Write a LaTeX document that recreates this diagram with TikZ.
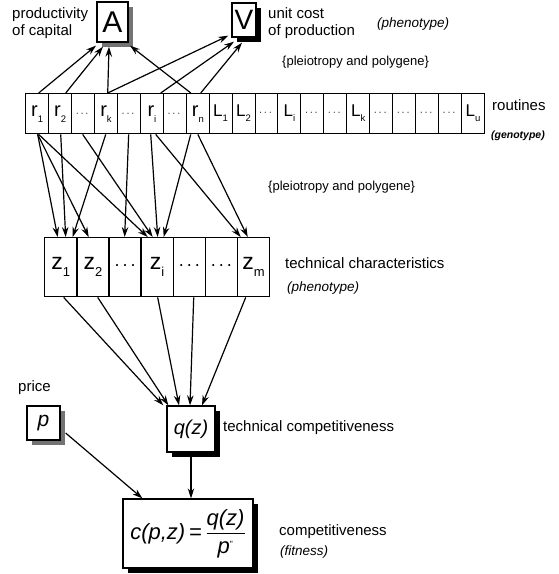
\documentclass[tikz,border=0pt]{standalone}
\usepackage{fontspec}
\setmainfont{Liberation Sans}
\usepackage{amsmath}
\usetikzlibrary{arrows.meta,patterns,shadows,calc}
\newcommand\lsub[1]{\raisebox{-0.3em}{\fontsize{9.5}{9.5}\selectfont #1}}
\newcommand\zsub[1]{\raisebox{-0.3em}{\fontsize{13}{13}\selectfont #1}}
\newcommand\rdots{{\fontsize{11}{11}\selectfont$\cdots$}}
\newcommand\zdots{{\fontsize{18}{18}\selectfont\raisebox{0.15em}{.\,.\,.}}}
\begin{document}
\begin{tikzpicture}[x=1pt,y=-1pt,
  rcell/.style={draw, line width=1.4pt, minimum width=22.95pt, minimum height=40pt, inner sep=0pt, anchor=north west, font=\fontsize{20}{20}\selectfont},
  lcell/.style={rcell, line width=0.9pt, font=\fontsize{17}{17}\selectfont},
  zcell/.style={draw, line width=1.4pt, minimum width=32.14pt, minimum height=59pt, inner sep=0pt, anchor=north west, font=\fontsize{23}{23}\selectfont},
  arr/.style={-{Stealth[length=10pt,width=6.5pt]}, line width=1.2pt},
  lbl/.style={anchor=west, inner sep=0pt, align=left, font=\fontsize{15}{17}\selectfont},
  slbl/.style={anchor=west, inner sep=0pt, font=\fontsize{13}{15}\selectfont},
  ilbl/.style={anchor=west, inner sep=0pt, font=\fontsize{13.5}{15}\selectfont\itshape},
  blackshadow/.style={general shadow={shadow xshift=4.5pt, shadow yshift=-4.5pt, fill=black}},
  dotshadow/.style={general shadow={shadow xshift=4.5pt, shadow yshift=-4.5pt, fill=black!55}},
  bigbox/.style={draw, line width=1.3pt, fill=white, inner sep=0pt}
]
\useasboundingbox (0,0) rectangle (559,574);

% top phenotype boxes
\node[bigbox, dotshadow, minimum width=31pt, minimum height=40pt, font=\fontsize{30}{30}\selectfont] (A) at (112.5,22) {A};
\node[bigbox, blackshadow, minimum width=24pt, minimum height=34pt, font=\fontsize{28}{28}\selectfont] (V) at (244,20) {V};

\node[lbl] (lprod) at (12,23) {productivity\\of capital};
\node[lbl] (lunit) at (268,23) {unit cost\\of production};
\node[ilbl] (lphen1) at (377,24) {(phenotype)};
\node[slbl] (lpp1) at (282,62) {\{pleiotropy and polygene\}};

% routines
\foreach \lab [count=\i] in {r\lsub{1},r\lsub{2},\rdots,r\lsub{k},\rdots,r\lsub{i},\rdots,r\lsub{n}}
  \node[rcell] (c\i) at ({25+(\i-1)*22.95},93) {\lab};
\foreach \lab [count=\j from 9] in {L\lsub{1},L\lsub{2},\rdots,L\lsub{i},\rdots,\rdots,L\lsub{k},\rdots,\rdots,\rdots,\rdots,L\lsub{u}}
  \node[lcell] (c\j) at ({25+(\j-1)*22.95},93) {\lab};

\node[lbl] (lrout) at (492,105) {routines};
\node[anchor=east, inner sep=0pt, font=\fontsize{10.5}{12}\selectfont\bfseries\itshape] (lgen) at (545,136) {(genotype)};

% arrows routines -> A, V
\draw[arr] ([xshift=1.5pt]c1.north) -- ([xshift=-16.5pt,yshift=-3pt]A.south);
\draw[arr] ([xshift=5.6pt]c2.north) -- ([xshift=-9.5pt,yshift=-4pt]A.south);
\draw[arr] ([xshift=1.7pt]c4.north) -- ([xshift=-3.5pt,yshift=-4pt]A.south);
\draw[arr] ([xshift=-7pt]c8.north) -- ([xshift=17.5pt,yshift=-3pt]A.south);
\draw[arr] ([xshift=1.7pt]c4.north) -- ([xshift=-3pt,yshift=2pt]V.south west);
\draw[arr] ([xshift=8.8pt]c6.north) -- ([xshift=-10pt,yshift=-4pt]V.south);
\draw[arr] ([xshift=2.9pt]c8.north) -- ([xshift=-2pt,yshift=-5pt]V.south);

% technical characteristics
\foreach \lab [count=\i] in {z\zsub{1},z\zsub{2},\zdots,z\zsub{i},\zdots,\zdots,z\zsub{m}}
  \node[zcell] (z\i) at ({44+(\i-1)*32.14},237) {\lab};

\node[slbl] (lpp2) at (268,187) {\{pleiotropy and polygene\}};
\node[lbl] (ltech) at (285,263) {technical characteristics};
\node[ilbl] (lphen2) at (287,288) {(phenotype)};

% arrows routines -> z
\draw[arr] ([xshift=0.5pt]c1.south) -- ([xshift=-3.1pt]z1.north);
\draw[arr] ([xshift=0.5pt]c1.south) -- ([xshift=-4.2pt]z2.north);
\draw[arr] ([xshift=1.5pt]c1.south) -- ([xshift=-9.5pt]z4.north);
\draw[arr] ([xshift=0.6pt]c2.south) -- ([xshift=4.9pt]z1.north);
\draw[arr] ([xshift=-0.4pt]c3.south) -- ([xshift=-4.5pt]z4.north);
\draw[arr] ([xshift=-0.3pt]c4.south) -- ([xshift=11.9pt]z1.north);
\draw[arr] ([xshift=-0.3pt]c5.south) -- ([xshift=-0.4pt]z3.north);
\draw[arr] ([xshift=-1.2pt]c6.south) -- ([xshift=0.5pt]z4.north);
\draw[arr] ([xshift=3.8pt]c6.south) -- ([xshift=-12.9pt]z7.north);
\draw[arr] ([xshift=-7.1pt]c8.south) -- ([xshift=6.5pt]z4.north);
\draw[arr] ([xshift=0pt]c8.south) -- ([xshift=-5.9pt]z7.north);

% q(z)
\node[bigbox, blackshadow, minimum width=48pt, minimum height=46pt, font=\fontsize{20}{20}\selectfont\itshape] (q) at (191,429) {q(z)};
\node[lbl] (ltc) at (223,428) {technical competitiveness};

\draw[arr] ([xshift=2.9pt]z1.south) -- ([xshift=-3pt]q.north west);
\draw[arr] ([xshift=4.8pt]z2.south) -- ([xshift=2pt]q.north west);
\draw[arr] ([xshift=0.5pt]z4.south) -- ([xshift=-12pt]q.north);
\draw[arr] ([xshift=4.4pt]z5.south) -- ([xshift=-1pt]q.north);
\draw[arr] ([xshift=-7.9pt]z7.south) -- ([xshift=11pt]q.north);

% price
\node[lbl] (lprice) at (18,388) {price};
\node[bigbox, dotshadow, minimum width=33pt, minimum height=34pt, font=\fontsize{21}{21}\selectfont\itshape] (p) at (43.5,423) {p};

% competitiveness
\node[bigbox, blackshadow, minimum width=130pt, minimum height=69pt, font=\fontsize{22}{22}\selectfont] (c) at (188,533.5)
  {\itshape c(p,z)\,=\,$\dfrac{\mbox{\itshape q(z)}}{\mbox{\itshape p}^{\mbox{\upshape\fontsize{9}{9}\selectfont "}}}$};
\node[lbl] (lcomp) at (279,532) {competitiveness};
\node[ilbl] (lfit) at (280,552) {(fitness)};

\draw[arr] ([xshift=5pt,yshift=-10pt]p.east) -- ([xshift=20pt]c.north west);
\draw[arr] (q.south) -- (q.south |- c.north);
\end{tikzpicture}
\end{document}
